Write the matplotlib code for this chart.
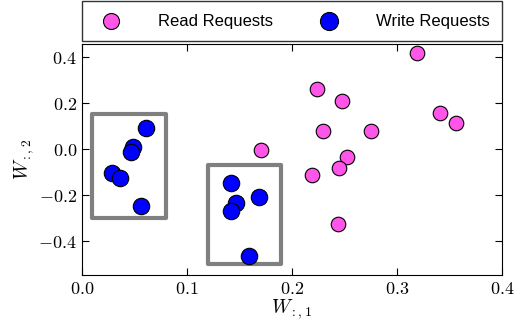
import matplotlib
matplotlib.use("Agg")
import matplotlib.pyplot as plt
from matplotlib.patches import Rectangle
from matplotlib.ticker import FuncFormatter

plt.rcParams["mathtext.fontset"] = "cm"

# --- данные ---
read_x = [0.319, 0.224, 0.248, 0.341, 0.356, 0.230, 0.275, 0.171, 0.252, 0.245, 0.219, 0.2435]
read_y = [0.416, 0.259, 0.209, 0.158, 0.114, 0.078, 0.078, -0.004, -0.036, -0.082, -0.111, -0.325]

write_x = [0.061, 0.049, 0.0467, 0.029, 0.036, 0.0565, 0.1425, 0.147, 0.142, 0.169, 0.159]
write_y = [0.092, 0.010, -0.012, -0.102, -0.127, -0.245, -0.148, -0.232, -0.268, -0.209, -0.464]

# кластеры (x0, y0, x1, y1)
boxes = [(0.01, -0.30, 0.08, 0.15), (0.12, -0.50, 0.19, -0.07)]

fig = plt.figure(figsize=(5.21, 3.2), dpi=100)
ax = fig.add_axes([0.157, 0.141, 0.8065, 0.7215])

ax.scatter(read_x, read_y, s=110, c="#FF55E8", edgecolors="black", linewidths=0.8,
           label="Read Requests", zorder=3)
ax.scatter(write_x, write_y, s=140, c="#0000FF", edgecolors="black", linewidths=0.8,
           label="Write Requests", zorder=3)

for x0, y0, x1, y1 in boxes:
    ax.add_patch(Rectangle((x0, y0), x1 - x0, y1 - y0, fill=False, edgecolor="#808080",
                           linewidth=3, joinstyle="round", zorder=2))

ax.set_xlim(0.0, 0.4)
ax.set_ylim(-0.545, 0.455)
ax.set_xticks([0.0, 0.1, 0.2, 0.3, 0.4])
ax.set_yticks([-0.4, -0.2, 0.0, 0.2, 0.4])
fmt = FuncFormatter(lambda v, p: "$%.1f$" % v)
ax.xaxis.set_major_formatter(fmt)
ax.yaxis.set_major_formatter(fmt)
ax.tick_params(direction="in", top=True, right=True, length=5, labelsize=13)

ax.set_xlabel("$W_{:,1}$", fontsize=14, labelpad=0)
ax.set_ylabel("$W_{:,2}$", fontsize=14, labelpad=2)

leg = ax.legend(loc="lower left", bbox_to_anchor=(0.0, 1.012, 1.0, 0.2), mode="expand",
                ncol=2, fancybox=False, borderaxespad=0.0, scatterpoints=1,
                prop={"family": "Liberation Sans", "size": 12}, handletextpad=1.8,
                borderpad=0.75, markerscale=1.1)
leg.get_frame().set_edgecolor("black")
leg.get_frame().set_linewidth(1.0)

fig.savefig("out.png", dpi=100)
